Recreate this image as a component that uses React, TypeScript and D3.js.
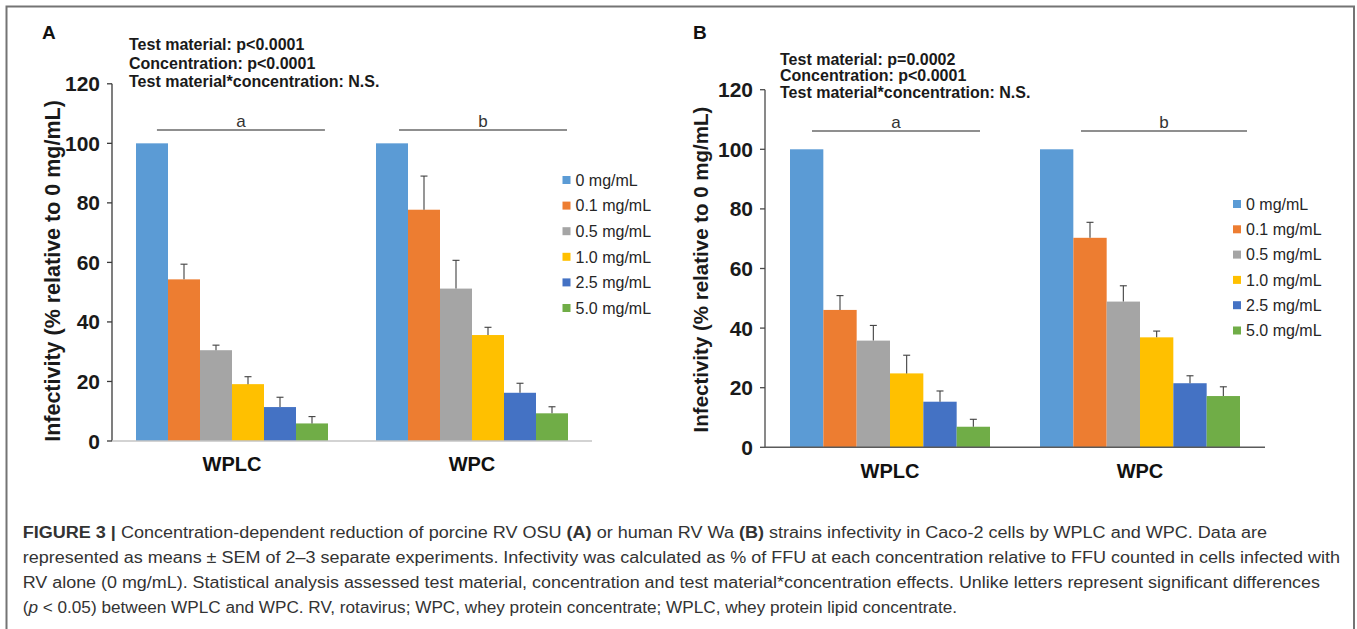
import React from 'react';
import * as d3 from 'd3';

// groups and concentrations
const groups = ['WPLC', 'WPC'];
const concentrations = ['0 mg/mL', '0.1 mg/mL', '0.5 mg/mL', '1.0 mg/mL', '2.5 mg/mL', '5.0 mg/mL'];
const barColors = ['#5B9BD5', '#ED7D31', '#A5A5A5', '#FFC000', '#4472C4', '#70AD47'];
const yTicks = [0, 20, 40, 60, 80, 100, 120];

// panel A: porcine RV OSU
const osuWplcMean = [100, 54.3, 30.5, 19.1, 11.4, 5.9];
const osuWplcSem = [0, 5.1, 1.7, 2.5, 3.3, 2.3];
const osuWpcMean = [100, 77.7, 51.2, 35.6, 16.2, 9.3];
const osuWpcSem = [0, 11.3, 9.5, 2.6, 3.2, 2.2];
const osuStats = ['Test material: p<0.0001', 'Concentration: p<0.0001', 'Test material*concentration: N.S.'];

// panel B: human RV Wa
const waWplcMean = [100, 46.1, 35.8, 24.8, 15.3, 6.9];
const waWplcSem = [0, 4.8, 5.1, 6.1, 3.6, 2.5];
const waWpcMean = [100, 70.3, 48.9, 36.9, 21.5, 17.2];
const waWpcSem = [0, 5.2, 5.3, 2.1, 2.5, 3.1];
const waStats = ['Test material: p=0.0002', 'Concentration: p<0.0001', 'Test material*concentration: N.S.'];

const sigLetters = ['a', 'b'];
const yLabel = 'Infectivity (% relative to 0 mg/mL)';

const FONT = 'Liberation Sans, Arial, Helvetica, sans-serif';

const panels = [
  {
    letter: 'A', letterX: 42, letterY: 39,
    means: [osuWplcMean, osuWpcMean], sems: [osuWplcSem, osuWpcSem], stats: osuStats,
    statsX: 129, statsY: 50, statsGap: 18.5,
    xRange: [112, 592], yRange: [441, 83.8],
    yLabelX: 60, yLabelY: 271, yLabelSize: 21.5,
    xAxisColor: '#c4c4c4', yAxisColor: '#3a3a3a',
    sigY: 130, sigSpans: [[0.109, 0.984], [0.12, 0.995]],
    groupLabelY: 471,
    legendX: 562.5, legendY: 180, legendGap: 25.6,
  },
  {
    letter: 'B', letterX: 693, letterY: 39,
    means: [waWplcMean, waWpcMean], sems: [waWplcSem, waWpcSem], stats: waStats,
    statsX: 780, statsY: 64.5, statsGap: 16.5,
    xRange: [765, 1265], yRange: [447.3, 89.7],
    yLabelX: 708, yLabelY: 269.5, yLabelSize: 20.5,
    xAxisColor: '#5a5a5a', yAxisColor: '#4a4a4a',
    sigY: 131, sigSpans: [[0.11, 0.95], [0.205, 1.035]],
    groupLabelY: 478,
    legendX: 1233, legendY: 204, legendGap: 25.3,
  },
];

const captionLines = [
  { end: 1267, parts: [
    { t: 'FIGURE 3 | ', b: true }, { t: 'Concentration-dependent reduction of porcine RV OSU ' }, { t: '(A)', b: true },
    { t: ' or human RV Wa ' }, { t: '(B)', b: true }, { t: ' strains infectivity in Caco-2 cells by WPLC and WPC. Data are' },
  ] },
  { end: 1340, parts: [
    { t: 'represented as means \u00b1 SEM of 2\u20133 separate experiments. Infectivity was calculated as % of FFU at each concentration relative to FFU counted in cells infected with' },
  ] },
  { end: 1320, parts: [
    { t: 'RV alone (0 mg/mL). Statistical analysis assessed test material, concentration and test material*concentration effects. Unlike letters represent significant differences' },
  ] },
  { end: 957, parts: [
    { t: '(' }, { t: 'p', i: true }, { t: ' < 0.05) between WPLC and WPC. RV, rotavirus; WPC, whey protein concentrate; WPLC, whey protein lipid concentrate.' },
  ] },
];

function Panel({ p }) {
  const x0 = d3.scaleBand().domain(groups).range(p.xRange).paddingInner(0.2).paddingOuter(0.1);
  const x1 = d3.scaleBand().domain(concentrations).range([0, x0.bandwidth()]);
  const y = d3.scaleLinear().domain([0, 120]).range(p.yRange);
  const axisX = p.xRange[0];

  return (
    <g>
      <text x={p.letterX} y={p.letterY} fontSize={19} fontWeight="bold" fill="#111">{p.letter}</text>
      {p.stats.map((s, i) => (
        <text key={s} x={p.statsX} y={p.statsY + i * p.statsGap} fontSize={16} fontWeight="bold" fill="#1a1a1a">{s}</text>
      ))}

      {/* y axis */}
      <line x1={axisX} x2={axisX} y1={y(120)} y2={y(0)} stroke={p.yAxisColor} strokeWidth={1.3} />
      {yTicks.map(t => (
        <g key={t}>
          <line x1={axisX - 5} x2={axisX} y1={y(t)} y2={y(t)} stroke={p.yAxisColor} strokeWidth={1.3} />
          <text x={axisX - 12} y={y(t)} dy="0.36em" textAnchor="end" fontSize={21} fontWeight="bold" fill="#1a1a1a">{t}</text>
        </g>
      ))}
      <text transform={`translate(${p.yLabelX},${p.yLabelY}) rotate(-90)`} textAnchor="middle"
        fontSize={p.yLabelSize} fontWeight="bold" fill="#1a1a1a">{yLabel}</text>

      {/* bars */}
      {groups.map((g, gi) => (
        <g key={g} transform={`translate(${x0(g)},0)`}>
          {concentrations.map((c, ci) => {
            const v = p.means[gi][ci];
            const e = p.sems[gi][ci];
            const bx = x1(c);
            const cx = bx + x1.bandwidth() / 2;
            return (
              <g key={c}>
                <rect x={bx} y={y(v)} width={x1.bandwidth()} height={y(0) - y(v)} fill={barColors[ci]} />
                {e > 0 && (
                  <g stroke="#404040" strokeWidth={1.1}>
                    <line x1={cx} x2={cx} y1={y(v)} y2={y(v + e)} />
                    <line x1={cx - 3.5} x2={cx + 3.5} y1={y(v + e)} y2={y(v + e)} />
                  </g>
                )}
              </g>
            );
          })}
        </g>
      ))}

      {/* x axis */}
      <line x1={axisX} x2={p.xRange[1]} y1={y(0)} y2={y(0)} stroke={p.xAxisColor} strokeWidth={1.4} />
      {groups.map(g => (
        <text key={g} x={x0(g) + x0.bandwidth() / 2} y={p.groupLabelY} textAnchor="middle"
          fontSize={20} fontWeight="bold" fill="#111">{g}</text>
      ))}

      {/* significance lines */}
      {groups.map((g, gi) => {
        const xa = x0(g) + x0.bandwidth() * p.sigSpans[gi][0];
        const xb = x0(g) + x0.bandwidth() * p.sigSpans[gi][1];
        return (
          <g key={g}>
            <line x1={xa} x2={xb} y1={p.sigY} y2={p.sigY} stroke="#6a6a6a" strokeWidth={1.5} />
            <text x={(xa + xb) / 2} y={p.sigY - 3} textAnchor="middle" fontSize={17} fill="#333">{sigLetters[gi]}</text>
          </g>
        );
      })}

      {/* legend */}
      {concentrations.map((c, ci) => (
        <g key={c} transform={`translate(${p.legendX},${p.legendY + ci * p.legendGap})`}>
          <rect x={0} y={-4} width={8} height={8} fill={barColors[ci]} />
          <text x={13} y={0} dy="0.36em" fontSize={16} fill="#262626">{c}</text>
        </g>
      ))}
    </g>
  );
}

export default function App() {
  return (
    <div style={{ position: 'absolute', left: 0, top: 0 }}>
      <svg width={1357} height={629} style={{ display: 'block', fontFamily: FONT }}>
        <rect x={0} y={0} width={1357} height={629} fill="#fff" />
        <rect x={6.5} y={6.5} width={1347.5} height={640} fill="none" stroke="#747474" strokeWidth={2} />
        {panels.map(p => <Panel key={p.letter} p={p} />)}
        {captionLines.map((l, li) => (
          <text key={li} x={22.7} y={537.5 + li * 25} fontSize={16} fill="#333"
            textLength={l.end - 22.7} lengthAdjust="spacingAndGlyphs">
            {l.parts.map((pt, pi) => (
              <tspan key={pi} fontWeight={pt.b ? 'bold' : 'normal'} fontStyle={pt.i ? 'italic' : 'normal'}>{pt.t}</tspan>
            ))}
          </text>
        ))}
      </svg>
    </div>
  );
}
